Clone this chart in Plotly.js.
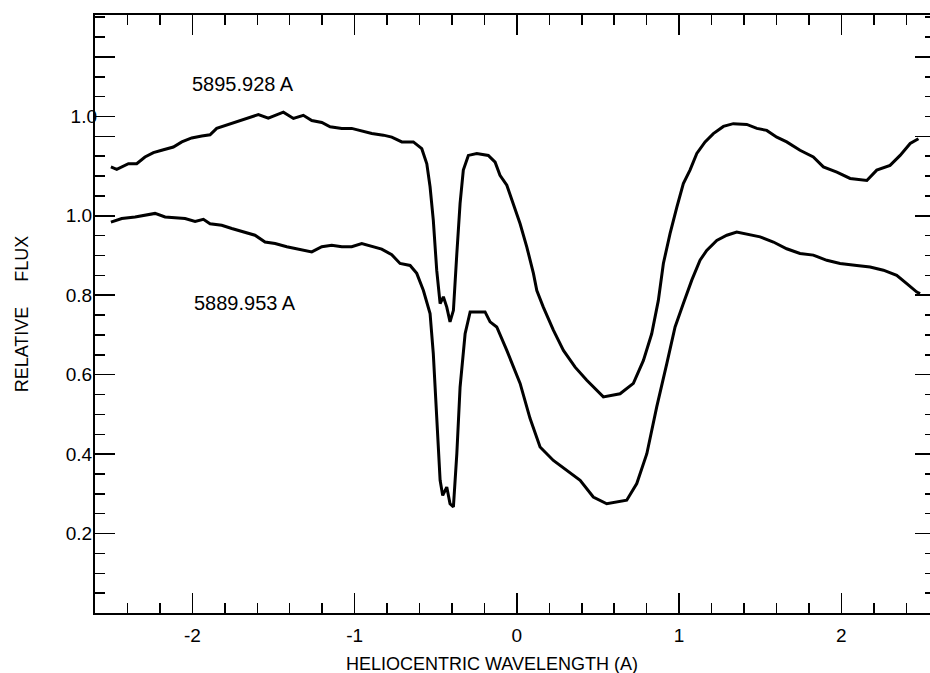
<!DOCTYPE html>
<html>
<head>
<meta charset="utf-8">
<script src="https://cdn.plot.ly/plotly-3.0.1.min.js"></script>
<style>html,body{margin:0;padding:0;overflow:hidden;background:#fff}#chart{width:936px;height:673px}</style>
</head>
<body>
<div id="chart"></div>
<script>
// Heliocentric wavelength offsets (A) and relative flux, Na D lines
const waveD2 = [-2.502,-2.435,-2.353,-2.292,-2.230,-2.168,-2.107,-2.045,-1.983,-1.932,-1.891,-1.819,-1.757,-1.675,-1.614,-1.552,-1.490,-1.418,-1.347,-1.264,-1.202,-1.141,-1.079,-1.018,-0.956,-0.894,-0.833,-0.771,-0.720,-0.658,-0.617,-0.576,-0.535,-0.515,-0.494,-0.473,-0.457,-0.432,-0.412,-0.391,-0.370,-0.350,-0.319,-0.288,-0.247,-0.196,-0.165,-0.124,-0.062,0.020,0.081,0.143,0.225,0.308,0.390,0.471,0.554,0.677,0.739,0.801,0.862,0.924,0.975,1.026,1.078,1.129,1.170,1.232,1.294,1.355,1.417,1.499,1.581,1.663,1.745,1.827,1.910,1.992,2.095,2.177,2.259,2.341,2.403,2.465,2.485];
const fluxD2 = [0.984,0.993,0.997,1.001,1.006,0.997,0.995,0.993,0.986,0.991,0.980,0.976,0.968,0.959,0.951,0.934,0.930,0.922,0.916,0.909,0.922,0.926,0.922,0.922,0.930,0.922,0.916,0.902,0.880,0.875,0.855,0.812,0.754,0.653,0.485,0.334,0.296,0.317,0.275,0.267,0.401,0.569,0.703,0.758,0.758,0.758,0.733,0.720,0.661,0.578,0.490,0.418,0.384,0.359,0.334,0.292,0.275,0.284,0.326,0.401,0.519,0.628,0.720,0.779,0.838,0.888,0.913,0.938,0.951,0.959,0.953,0.947,0.934,0.917,0.905,0.901,0.888,0.880,0.875,0.871,0.863,0.850,0.829,0.808,0.804];

const waveD1 = [-2.502,-2.466,-2.394,-2.343,-2.292,-2.240,-2.189,-2.117,-2.065,-2.004,-1.942,-1.891,-1.850,-1.778,-1.716,-1.655,-1.593,-1.532,-1.480,-1.439,-1.377,-1.316,-1.264,-1.202,-1.151,-1.079,-1.018,-0.956,-0.894,-0.823,-0.771,-0.709,-0.638,-0.586,-0.555,-0.535,-0.515,-0.494,-0.473,-0.453,-0.432,-0.412,-0.391,-0.370,-0.350,-0.330,-0.299,-0.247,-0.176,-0.134,-0.104,-0.062,-0.011,0.020,0.061,0.102,0.123,0.163,0.225,0.287,0.359,0.431,0.533,0.636,0.718,0.780,0.831,0.872,0.903,0.944,0.986,1.026,1.067,1.109,1.160,1.211,1.273,1.334,1.417,1.479,1.540,1.602,1.663,1.745,1.827,1.889,1.972,2.054,2.157,2.218,2.300,2.362,2.424,2.475];
const fluxD1 = [0.873,0.867,0.881,0.881,0.898,0.909,0.915,0.923,0.936,0.946,0.951,0.954,0.970,0.980,0.988,0.996,1.005,0.996,1.005,1.011,0.995,1.003,0.990,0.985,0.974,0.970,0.970,0.963,0.957,0.953,0.948,0.936,0.936,0.919,0.881,0.823,0.739,0.613,0.529,0.546,0.520,0.483,0.512,0.655,0.781,0.865,0.902,0.907,0.902,0.885,0.852,0.827,0.764,0.730,0.672,0.605,0.562,0.520,0.462,0.411,0.369,0.336,0.294,0.302,0.328,0.386,0.453,0.537,0.630,0.705,0.772,0.831,0.865,0.907,0.936,0.957,0.975,0.982,0.980,0.970,0.965,0.948,0.936,0.915,0.898,0.873,0.860,0.844,0.839,0.865,0.877,0.902,0.932,0.944];
const offsetD1 = 0.25;

const labelD1 = '5895.928 A';
const labelD2 = '5889.953 A';
const xTitle = 'HELIOCENTRIC WAVELENGTH (A)';
const yTitle = 'RELATIVE\u00a0\u00a0\u00a0\u00a0\u00a0FLUX';

const FONT = 'Liberation Sans, Arial, Helvetica, sans-serif';
const yRange = [0, 1.5055];

const traces = [
  {x: waveD2, y: fluxD2, type: 'scatter', mode: 'lines', line: {color: '#000', width: 3}, xaxis: 'x', yaxis: 'y', hoverinfo: 'skip'},
  {x: waveD1, y: fluxD1.map(v => v + offsetD1), type: 'scatter', mode: 'lines', line: {color: '#000', width: 3}, xaxis: 'x', yaxis: 'y2', hoverinfo: 'skip'}
];

const tickStyle = {ticks: 'inside', tickcolor: '#000', tickwidth: 1.5};

const layout = {
  width: 936, height: 673,
  margin: {l: 95, r: 1, t: 15, b: 60},
  paper_bgcolor: '#fff', plot_bgcolor: '#fff',
  showlegend: false,
  font: {family: FONT, color: '#000', size: 19},
  xaxis: Object.assign({
    range: [-2.6, 2.577], tickmode: 'linear', tick0: 0, dtick: 1, ticklen: 20,
    mirror: 'ticks', showline: true, linecolor: '#000', linewidth: 2,
    showgrid: false, zeroline: false,
    tickfont: {family: FONT, size: 19, color: '#000'},
    labelalias: {'\u22122': '-2', '\u22121': '-1'},
    ticklabelstandoff: 4,
    minor: {ticks: 'inside', tickmode: 'linear', tick0: 0, dtick: 0.2, ticklen: 10, tickcolor: '#000', tickwidth: 1.5, showgrid: false}
  }, tickStyle),
  yaxis: Object.assign({
    range: yRange, tickmode: 'linear', tick0: 0, dtick: 0.2, ticklen: 20, tickformat: '.1f',
    labelalias: {'0.0': '', '1.2': '', '1.4': ''},
    mirror: 'ticks', showline: true, linecolor: '#000', linewidth: 2,
    showgrid: false, zeroline: false,
    ticklabelstandoff: -3,
    tickfont: {family: FONT, size: 19, color: '#000'},
    title: {text: yTitle, font: {family: FONT, size: 18, color: '#000'}, standoff: 32},
    minor: {ticks: 'inside', tickmode: 'linear', tick0: 0, dtick: 0.05, ticklen: 10, tickcolor: '#000', tickwidth: 1.5, showgrid: false}
  }, tickStyle),
  yaxis2: Object.assign({
    range: yRange, overlaying: 'y', side: 'left', anchor: 'x',
    tickmode: 'array', tickvals: [offsetD1 + 1.0], ticktext: ['1.0'], ticklen: 20,
    showline: false, showgrid: false, zeroline: false,
    ticklabelstandoff: -3,
    tickfont: {family: FONT, size: 19, color: '#000'}
  }, tickStyle),
  annotations: [
    {text: labelD1, x: -2.014, y: 1.333, xref: 'x', yref: 'y', xanchor: 'left', yanchor: 'middle', showarrow: false, font: {family: FONT, size: 20, color: '#000'}},
    {text: labelD2, x: -2.002, y: 0.780, xref: 'x', yref: 'y', xanchor: 'left', yanchor: 'middle', showarrow: false, font: {family: FONT, size: 20, color: '#000'}},
    {text: xTitle, x: 0.4732, y: -0.0861, xref: 'paper', yref: 'paper', xanchor: 'center', yanchor: 'middle', showarrow: false, font: {family: FONT, size: 18, color: '#000'}}
  ]
};

Plotly.newPlot('chart', traces, layout, {staticPlot: true, displayModeBar: false});
</script>
</body>
</html>
